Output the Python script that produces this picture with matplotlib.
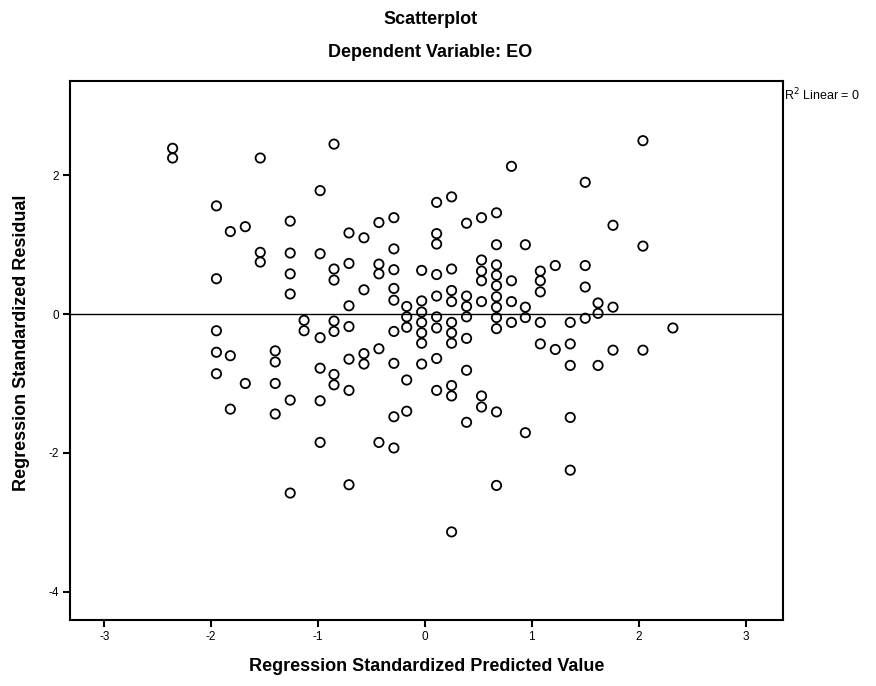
import matplotlib.pyplot as plt

# valores (predicho estandarizado, residuo estandarizado)
pred = ([-2.36] * 2 + [-1.95] * 5 + [-1.82] * 3 + [-1.68] * 2 + [-1.54] * 3
        + [-1.40] * 4 + [-1.26] * 6 + [-1.13] * 2 + [-0.98] * 6 + [-0.85] * 7
        + [-0.71] * 7 + [-0.57] * 4 + [-0.43] * 5 + [-0.29] * 9 + [-0.17] * 5
        + [-0.03] * 7 + [0.11] * 9 + [0.25] * 10 + [0.39] * 7 + [0.53] * 7
        + [0.67] * 11 + [0.81] * 4 + [0.94] * 4 + [1.08] * 5 + [1.22] * 2
        + [1.36] * 5 + [1.50] * 4 + [1.62] * 3 + [1.76] * 3 + [2.04] * 3
        + [2.32] * 1)
resid = [2.39, 2.25,
         1.56, 0.51, -0.24, -0.55, -0.86,
         1.19, -0.60, -1.37,
         1.26, -1.00,
         2.25, 0.89, 0.75,
         -0.53, -0.69, -1.00, -1.44,
         1.34, 0.88, 0.58, 0.29, -1.24, -2.58,
         -0.09, -0.24,
         1.78, 0.87, -0.34, -0.78, -1.25, -1.85,
         2.45, 0.65, 0.49, -0.10, -0.25, -0.87, -1.02,
         1.17, 0.73, 0.12, -0.18, -0.65, -1.10, -2.46,
         1.10, 0.35, -0.57, -0.72,
         1.32, 0.72, 0.58, -0.50, -1.85,
         1.39, 0.94, 0.64, 0.37, 0.20, -0.25, -0.71, -1.48, -1.93,
         0.11, -0.04, -0.19, -0.95, -1.40,
         0.63, 0.19, 0.03, -0.12, -0.27, -0.42, -0.72,
         1.61, 1.16, 1.01, 0.57, 0.26, -0.04, -0.20, -0.64, -1.10,
         1.69, 0.65, 0.34, 0.18, -0.12, -0.27, -0.42, -1.03, -1.18, -3.14,
         1.31, 0.26, 0.11, -0.04, -0.35, -0.81, -1.56,
         1.39, 0.78, 0.62, 0.48, 0.18, -1.18, -1.34,
         1.46, 1.00, 0.71, 0.56, 0.41, 0.25, 0.10, -0.05, -0.21, -1.41, -2.47,
         2.13, 0.48, 0.18, -0.12,
         1.00, 0.10, -0.05, -1.71,
         0.62, 0.48, 0.32, -0.12, -0.43,
         0.70, -0.51,
         -0.12, -0.43, -0.74, -1.49, -2.25,
         1.90, 0.70, 0.39, -0.06,
         0.16, 0.01, -0.74,
         1.28, 0.10, -0.52,
         2.50, 0.98, -0.52,
         -0.20]

x_ticks = [-3, -2, -1, 0, 1, 2, 3]
y_ticks = [-4, -2, 0, 2]

plt.rcParams['font.family'] = ['Liberation Sans', 'DejaVu Sans']
plt.rcParams['axes.unicode_minus'] = False

fig = plt.figure(figsize=(8.76, 6.86), dpi=100)
ax = fig.add_axes([0.0799, 0.0962, 0.8139, 0.7857])

ax.scatter(pred, resid, s=45, facecolors='none', edgecolors='black',
           linewidths=1.3, zorder=3)
ax.axhline(0, color='black', linewidth=1.0, zorder=2)

ax.set_xlim(-3.32, 3.35)
ax.set_ylim(-4.41, 3.36)
ax.set_xticks(x_ticks)
ax.set_yticks(y_ticks)
ax.tick_params(direction='out', length=5, width=1.5, labelsize=8.5, pad=3)
for sp in ax.spines.values():
    sp.set_linewidth(1.5)

fig.text(0.491, 0.971, 'Scatterplot', ha='center', va='center',
         fontsize=13, fontweight='bold')
fig.text(0.491, 0.924, 'Dependent Variable: EO', ha='center', va='center',
         fontsize=13, fontweight='bold')
fig.text(0.487, 0.028, 'Regression Standardized Predicted Value',
         ha='center', va='center', fontsize=13, fontweight='bold')
fig.text(0.025, 0.50, 'Regression Standardized Residual', ha='center',
         va='center', rotation=90, fontsize=13, fontweight='bold')
fig.text(0.895, 0.862, r'R$^2$ Linear = 0', ha='left', va='center',
         fontsize=9)

fig.savefig('out.png', dpi=100)
plt.close(fig)
